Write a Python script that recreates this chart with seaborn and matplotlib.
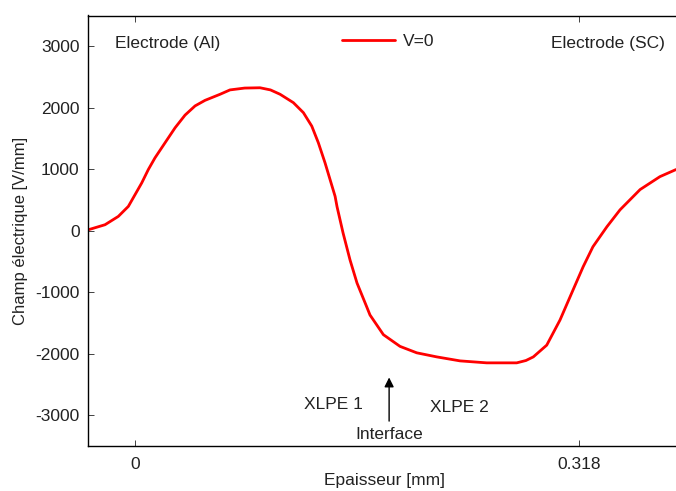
import matplotlib
matplotlib.use('Agg')
import matplotlib.pyplot as plt
import seaborn as sns
import pandas as pd

# Champ electrique le long de l'epaisseur
epaisseur = [-0.0335, -0.0215, -0.012, -0.0048, 0.0, 0.0048, 0.0095, 0.0143, 0.0215, 0.0287,
             0.0358, 0.043, 0.0501, 0.061, 0.068, 0.0785, 0.0895, 0.097, 0.1039, 0.1134,
             0.1206, 0.1266, 0.1313, 0.1361, 0.1397, 0.1433, 0.1447, 0.149, 0.154, 0.159,
             0.166, 0.1683, 0.1779, 0.1898, 0.2018, 0.2161, 0.2328, 0.2519, 0.2734, 0.280,
             0.2853, 0.2949, 0.3044, 0.3138, 0.321, 0.328, 0.338, 0.3474, 0.3618, 0.376, 0.3875]
champ = [16, 98, 233, 396, 587, 778, 995, 1186, 1431, 1675,
         1880, 2030, 2120, 2220, 2290, 2320, 2325, 2290, 2219, 2083,
         1920, 1701, 1431, 1104, 832, 560, 390, -35, -475, -850,
         -1240, -1370, -1690, -1880, -1985, -2051, -2116, -2148, -2148, -2110,
         -2051, -1860, -1452, -960, -585, -260, 65, 340, 670, 880, 995]
xticks = [0, 0.318]
xticklabels = ['0', '0.318']
yticks = [3000, 2000, 1000, 0, -1000, -2000, -3000]

df = pd.DataFrame({'x': epaisseur, 'E': champ})

sns.set_style('ticks')
plt.rcParams['font.family'] = ['Liberation Sans', 'DejaVu Sans']
plt.rcParams['font.size'] = 12.5
plt.rcParams['axes.unicode_minus'] = False

fig = plt.figure(figsize=(6.76, 4.91), dpi=100)
ax = fig.add_axes([88 / 676, 45 / 491, 1 - 88 / 676, 430.5 / 491])

sns.lineplot(data=df, x='x', y='E', color='#ff0000', linewidth=2, sort=False,
             estimator=None, label='V=0', ax=ax)

ax.set_xlim(-0.0337, 0.3875)
ax.set_ylim(-3500, 3500)
ax.set_xticks(xticks)
ax.set_xticklabels(xticklabels)
ax.set_yticks(yticks)
ax.tick_params(direction='in', length=4, width=0.6, top=True, right=False,
               labelsize=12.5, colors='#222222', pad=8)
ax.tick_params(axis='y', pad=6)
for s in ['left', 'bottom', 'top']:
    ax.spines[s].set_linewidth(1.0)
    ax.spines[s].set_color('black')
ax.spines['right'].set_visible(False)

ax.set_xlabel('Epaisseur [mm]', fontsize=12.5, color='#222222')
ax.xaxis.set_label_coords(0.505, -0.062)
ax.set_ylabel('Champ électrique [V/mm]', fontsize=12, color='#222222', labelpad=5)

ax.text(-0.0143, 3050, 'Electrode (Al)', fontsize=12.5, va='center', ha='left', color='#222222')
ax.text(0.3797, 3050, 'Electrode (SC)', fontsize=12.5, va='center', ha='right', color='#222222')
ax.text(0.121, -2822, 'XLPE 1', fontsize=12.5, va='center', ha='left', color='#222222')
ax.text(0.2113, -2871, 'XLPE 2', fontsize=12.5, va='center', ha='left', color='#222222')
ax.text(0.182, -3312, 'Interface', fontsize=12.5, va='center', ha='center', color='#222222')
ax.annotate('', xy=(0.182, -2340), xytext=(0.182, -3140),
            arrowprops=dict(arrowstyle='-|>', color='black', lw=1, mutation_scale=14))

leg = ax.legend(loc='center', bbox_to_anchor=(0.5106, 0.9407), frameon=False,
                handlelength=3.05, handletextpad=0.5, fontsize=12.5)
for t in leg.get_texts():
    t.set_color('#222222')

fig.savefig('out.png', dpi=100)
